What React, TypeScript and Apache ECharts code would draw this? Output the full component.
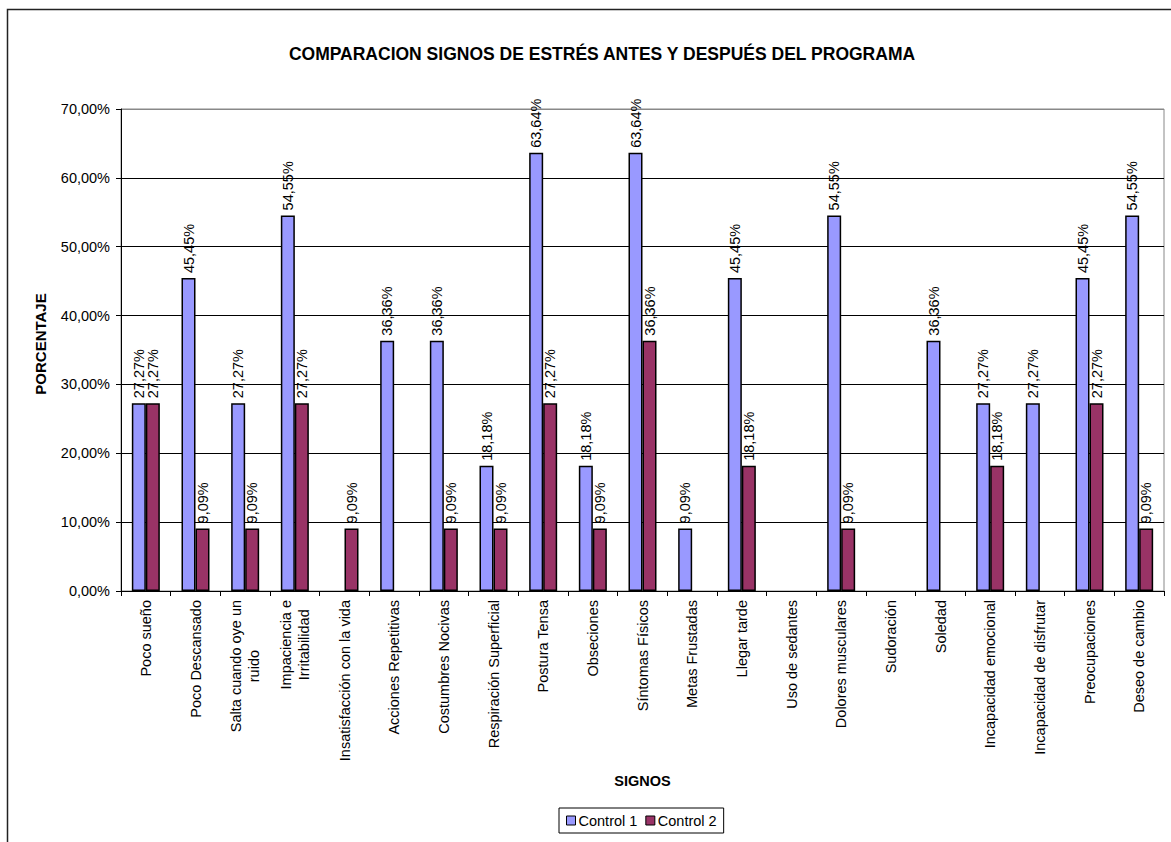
import React, { useEffect, useRef } from "react";
import * as echarts from "echarts";

const categories = [
  "Poco sueño",
  "Poco Descansado",
  "Salta cuando oye un\nruido",
  "Impaciencia e\nIrritabilidad",
  "Insatisfacción con la vida",
  "Acciones Repetitivas",
  "Costumbres Nocivas",
  "Respiración Superficial",
  "Postura Tensa",
  "Obseciones",
  "Síntomas Físicos",
  "Metas Frustadas",
  "Llegar tarde",
  "Uso de sedantes",
  "Dolores musculares",
  "Sudoración",
  "Soledad",
  "Incapacidad emocional",
  "Incapacidad de disfrutar",
  "Preocupaciones",
  "Deseo de cambio",
];

const control1 = [27.27, 45.45, 27.27, 54.55, 0, 36.36, 36.36, 18.18, 63.64, 18.18, 63.64, 9.09, 45.45, 0, 54.55, 0, 36.36, 27.27, 27.27, 45.45, 54.55];
const control2 = [27.27, 9.09, 9.09, 27.27, 9.09, 0, 9.09, 9.09, 27.27, 9.09, 36.36, 0, 18.18, 0, 9.09, 0, 0, 18.18, 0, 27.27, 9.09];

const seriesNames = ["Control 1", "Control 2"];
const yTicks = { min: 0, max: 70, interval: 10 };

const FONT = "Liberation Sans, Arial, sans-serif";
const FS = 14.5;
const pct = (v: number) => v.toFixed(2).replace(".", ",") + "%";

export default function App() {
  const ref = useRef<HTMLDivElement>(null);
  useEffect(() => {
    if (!ref.current) return;
    const chart = echarts.init(ref.current, null, { renderer: "svg" });
    const label = {
      show: true,
      position: "top",
      rotate: 90,
      align: "left",
      verticalAlign: "middle",
      distance: 5,
      color: "#000",
      fontSize: FS,
      fontFamily: FONT,
      formatter: (p: any) => (typeof p.value === "number" && p.value ? pct(p.value) : ""),
    };
    const mkSeries = (name: string, data: number[], color: string) => ({
      name,
      type: "bar",
      data: data.map((v) => (v === 0 ? "-" : v)),
      barWidth: 14,
      barGap: "0%",
      itemStyle: { color, borderColor: "#000", borderWidth: 1.5 },
      label,
    });
    chart.setOption({
      animation: false,
      backgroundColor: "#fff",
      textStyle: { fontFamily: FONT },
      title: {
        text: "COMPARACION SIGNOS DE ESTRÉS ANTES Y DESPUÉS DEL PROGRAMA",
        left: 597,
        top: 40,
        textAlign: "center",
        textStyle: { fontSize: 17.5, fontWeight: "bold", color: "#000", fontFamily: FONT },
      },
      legend: {
        data: seriesNames,
        left: 559,
        top: 808,
        orient: "horizontal",
        padding: [5, 7, 5, 7],
        itemGap: 8,
        itemWidth: 9,
        itemHeight: 9,
        icon: "rect",
        borderColor: "#000",
        borderWidth: 1,
        textStyle: { fontSize: FS, color: "#000", fontFamily: FONT, padding: [0, 0, 0, -2] },
        itemStyle: { borderColor: "#000", borderWidth: 1 },
      },
      grid: {
        left: 121,
        top: 109,
        right: 7,
        bottom: 251,
        show: true,
        borderColor: "#888",
        borderWidth: 1,
        backgroundColor: "transparent",
      },
      xAxis: {
        type: "category",
        data: categories,
        name: "SIGNOS",
        nameLocation: "middle",
        nameGap: 182,
        nameTextStyle: { fontSize: FS, fontWeight: "bold", color: "#000", fontFamily: FONT },
        axisLine: { lineStyle: { color: "#000", width: 1 } },
        axisTick: { show: true, length: 5, lineStyle: { color: "#000" } },
        axisLabel: {
          interval: 0,
          rotate: 90,
          margin: 9,
          color: "#000",
          fontSize: FS,
          fontFamily: FONT,
          formatter: (v: string) =>
            v.indexOf("\n") >= 0 ? v.split("\n").map((s) => "{c|" + s + "}").join("\n") : v,
          rich: { c: { align: "center", fontSize: FS, lineHeight: 18, fontFamily: FONT, color: "#000" } },
        },
      },
      yAxis: {
        type: "value",
        min: yTicks.min,
        max: yTicks.max,
        interval: yTicks.interval,
        name: "PORCENTAJE",
        nameLocation: "middle",
        nameGap: 73,
        nameTextStyle: {
          fontSize: 15,
          fontWeight: "bold",
          color: "#000",
          fontFamily: FONT,
          padding: [0, 0, 0, 12],
        },
        axisLine: { show: true, lineStyle: { color: "#000", width: 1 } },
        axisTick: { show: true, length: 5, lineStyle: { color: "#000" } },
        axisLabel: { formatter: pct, color: "#000", fontSize: FS, fontFamily: FONT, margin: 11 },
        splitLine: {
          show: true,
          lineStyle: { color: ["#000", "#000", "#000", "#000", "#000", "#000", "#000", "#888"], width: 1 },
        },
      },
      graphic: [
        {
          type: "rect",
          shape: { x: 7.5, y: 9.5, width: 1200, height: 900 },
          style: { fill: "none", stroke: "#222", lineWidth: 1.5 },
          silent: true,
          z: 100,
        },
      ],
      series: [mkSeries(seriesNames[0], control1, "#9999FF"), mkSeries(seriesNames[1], control2, "#993366")],
    });
    return () => chart.dispose();
  }, []);
  return <div ref={ref} style={{ position: "fixed", left: 0, top: 0, width: 1171, height: 842 }} />;
}
